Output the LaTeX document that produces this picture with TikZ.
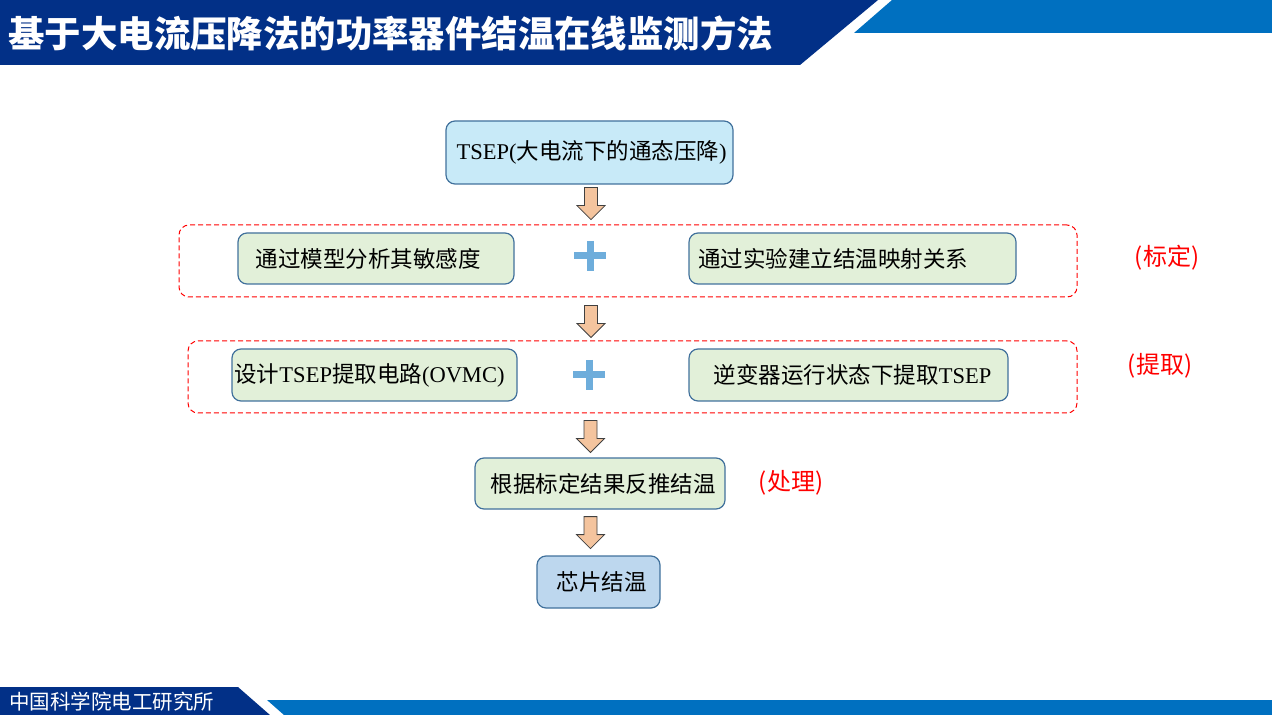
\documentclass[tikz,border=0pt]{standalone}
\usepackage{fontspec}
\setmainfont{Liberation Serif}
\newfontfamily\cjk{Noto Sans CJK SC}
\usetikzlibrary{calc}
\definecolor{dblue}{HTML}{023087}
\definecolor{lblue}{HTML}{0070C0}
\definecolor{bordc}{HTML}{41719C}
\definecolor{cyanfill}{HTML}{C8EAF8}
\definecolor{greenfill}{HTML}{E2F0D9}
\definecolor{chipfill}{HTML}{BDD7EE}
\definecolor{arrowfill}{HTML}{F4C49E}
\definecolor{plusc}{HTML}{6EADDB}
\tikzset{
  box/.style={draw=bordc, line width=0.6pt, rounded corners=4.5pt, inner sep=0pt,
    font=\fontsize{11.25}{13}\selectfont},
  dashbox/.style={draw=red, line width=0.5pt, dash pattern=on 2.5pt off 1.5pt, rounded corners=5pt, inner sep=0pt},
  redlabel/.style={text=red, font=\cjk\fontsize{12}{14}\selectfont},
  pics/darrow/.style={code={
    \draw[fill=arrowfill, draw=black!75, line width=0.4pt]
      (-6.5,0) -- (6.5,0) -- (6.5,18) -- (14,18) -- (0,32) -- (-14,18) -- (-6.5,18) -- cycle;
  }},
  pics/plus/.style={code={
    \draw[plusc, line width=3.5pt] (-16,0) -- (16,0);
    \draw[plusc, line width=3.5pt] (0,-15) -- (0,15);
  }}
}
\begin{document}
\begin{tikzpicture}[x=0.5pt,y=-0.5pt]
\useasboundingbox (0,0) rectangle (1272,715);
% header
\fill[dblue] (0,0) -- (878,0) -- (800,65) -- (0,65) -- cycle;
\fill[lblue] (892,0) -- (1272,0) -- (1272,33) -- (854,33) -- cycle;
\node[anchor=west, text=white, font=\cjk\bfseries\fontsize{18.2}{20}\selectfont, inner sep=0pt] (title) at (8,33) {基于大电流压降法的功率器件结温在线监测方法};
% footer
\fill[dblue] (0,687) -- (238,687) -- (270,715) -- (0,715) -- cycle;
\fill[lblue] (267,700) -- (1272,700) -- (1272,715) -- (284,715) -- cycle;
\node[anchor=west, text=white, font=\cjk\fontsize{10.25}{12}\selectfont, inner sep=0pt] (foot) at (9,702) {中国科学院电工研究所};

% dashed groups
\node[dashbox, minimum width=449pt, minimum height=36pt] (g1) at (628,261) {};
\node[dashbox, minimum width=444.5pt, minimum height=36pt] (g2) at (632.5,377) {};

% boxes
\node[box, fill=cyanfill, minimum width=143.5pt, minimum height=31.5pt] (tsep) at (589.5,152.5)
  {\hspace{2pt}TSEP({\cjk 大电流下的通态压降})};
\node[box, fill=greenfill, minimum width=138pt, minimum height=25.5pt] (a) at (376,258.5)
  {{\cjk 通过模型分析其敏感度}\hspace{8pt}\null};
\node[box, fill=greenfill, text width=154.5pt, inner xsep=4.5pt, minimum height=25.5pt, align=left] (b) at (852.5,258.5)
  {\cjk 通过实验建立结温映射关系};
\node[box, fill=greenfill, minimum width=142.5pt, minimum height=26pt] (c) at (374.5,375)
  {{\cjk 设计}TSEP{\cjk 提取电路}(OVMC)\hspace{5pt}\null};
\node[box, fill=greenfill, minimum width=159.5pt, minimum height=26pt] (d) at (848.5,375)
  {\hspace{4pt}{\cjk 逆变器运行状态下提取}TSEP};
\node[box, fill=greenfill, minimum width=125pt, minimum height=25.5pt] (e) at (600,483.5)
  {\hspace{3pt}\cjk 根据标定结果反推结温};
\node[box, fill=chipfill, minimum width=61.5pt, minimum height=26pt] (f) at (598.5,582)
  {\hspace{3pt}\cjk 芯片结温};

% plus signs
\pic at (590,256) {plus};
\pic at (589,375) {plus};

% block arrows
\pic at ($(tsep.south)+(1.5,3)$) {darrow};
\pic at ($(g1.south)+(-37,8)$) {darrow};
\pic at ($(g2.south)+(-42,7)$) {darrow};
\pic at ($(e.south)+(-9.5,7)$) {darrow};

% red labels
\node[redlabel] (l1) at (1167,258) {(标定)};
\node[redlabel] (l2) at (1160,366) {(提取)};
\node[redlabel] (l3) at (791,483) {(处理)};
\end{tikzpicture}
\end{document}
